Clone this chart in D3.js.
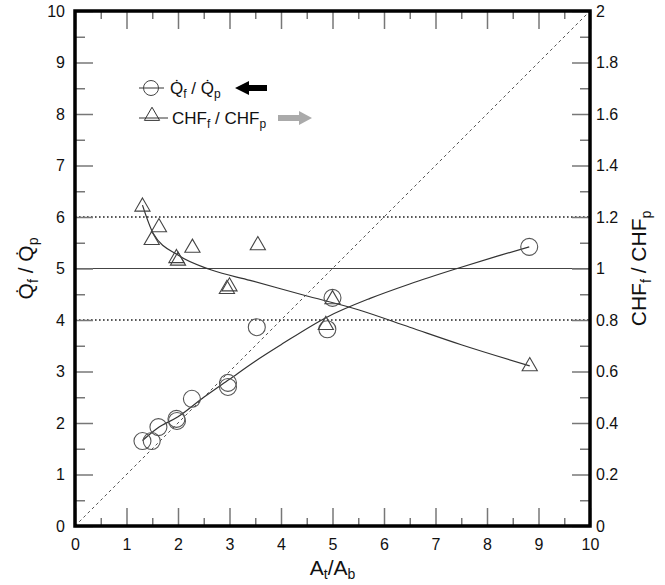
<!DOCTYPE html>
<html>
<head>
<meta charset="utf-8">
<script src="https://cdn.jsdelivr.net/npm/d3@7"></script>
<style>
body { margin: 0; background: #fff; }
text { font-family: "Liberation Sans", Arial, sans-serif; fill: #111; }
</style>
</head>
<body>
<svg id="chart" width="665" height="585"></svg>
<script>
// measured points, Q ratio (left axis)
const circleX = [1.31, 1.49, 1.62, 1.97, 1.98, 2.27, 2.97, 2.97, 3.53, 4.9, 5.0, 8.82];
const circleQ = [1.65, 1.65, 1.92, 2.08, 2.04, 2.47, 2.78, 2.70, 3.86, 3.82, 4.43, 5.42];
// measured points, CHF ratio (right axis)
const triX = [1.31, 1.63, 1.49, 2.28, 1.97, 2.0, 3.55, 3.0, 2.95, 5.0, 4.87, 8.83];
const triCHF = [1.24, 1.16, 1.11, 1.08, 1.04, 1.03, 1.09, 0.93, 0.92, 0.88, 0.78, 0.62];
// fitted curves
const fitQX = [1.31, 1.6, 2.0, 2.5, 3.0, 3.5, 4.0, 4.9, 5.73, 6.5, 7.42, 8.2, 8.82];
const fitQY = [1.66, 1.9, 2.12, 2.5, 2.85, 3.2, 3.52, 4.06, 4.42, 4.7, 5.0, 5.24, 5.42];
const fitCX = [1.31, 1.52, 2.0, 2.65, 3.4, 4.45, 5.5, 6.5, 7.5, 8.83];
const fitCY = [1.246, 1.136, 1.052, 0.994, 0.954, 0.896, 0.84, 0.772, 0.704, 0.622];
// reference lines on the left scale
const dottedLevels = [4, 6];
const solidLevels = [5];

const svg = d3.select('#chart');
const x = d3.scaleLinear().domain([0, 10]).range([75, 590]);
const yL = d3.scaleLinear().domain([0, 10]).range([526, 11]);
const yR = d3.scaleLinear().domain([0, 2]).range([526, 11]);

// reference lines
svg.selectAll('.dotted').data(dottedLevels).enter().append('line')
	.attr('x1', x(0)).attr('x2', x(10))
	.attr('y1', d => yL(d)).attr('y2', d => yL(d))
	.attr('stroke', '#222').attr('stroke-width', 1.6).attr('stroke-dasharray', '1.6,2.4');
svg.selectAll('.solid').data(solidLevels).enter().append('line')
	.attr('x1', x(0)).attr('x2', x(10))
	.attr('y1', d => yL(d)).attr('y2', d => yL(d))
	.attr('stroke', '#444').attr('stroke-width', 1.2);
svg.append('line')
	.attr('x1', x(0)).attr('y1', yL(0)).attr('x2', x(10)).attr('y2', yL(10))
	.attr('stroke', '#555').attr('stroke-width', 1).attr('stroke-dasharray', '3,3');

// fit curves
let lineQ = d3.line().x(d => x(d[0])).y(d => yL(d[1])).curve(d3.curveMonotoneX);
let lineC = d3.line().x(d => x(d[0])).y(d => yR(d[1])).curve(d3.curveMonotoneX);
svg.append('path').attr('d', lineQ(fitQX.map((v, i) => [v, fitQY[i]])))
	.attr('fill', 'none').attr('stroke', '#333').attr('stroke-width', 1.2);
svg.append('path').attr('d', lineC(fitCX.map((v, i) => [v, fitCY[i]])))
	.attr('fill', 'none').attr('stroke', '#333').attr('stroke-width', 1.2);

// markers
svg.selectAll('.circ').data(circleX).enter().append('circle')
	.attr('cx', d => x(d))
	.attr('cy', (d, i) => yL(circleQ[i]))
	.attr('r', 8.5)
	.attr('fill', 'none').attr('stroke', '#555').attr('stroke-width', 1.1);
let tri = d3.symbol().type(d3.symbolTriangle).size(100);
svg.selectAll('.tri').data(triX).enter().append('path')
	.attr('d', tri)
	.attr('transform', (d, i) => 'translate(' + x(d) + ',' + yR(triCHF[i]) + ')')
	.attr('fill', 'none').attr('stroke', '#444').attr('stroke-width', 1.1);

// axes with inward ticks
function styleAxis(g) {
	g.select('.domain').remove();
	g.selectAll('.tick line').attr('stroke', '#777').attr('stroke-width', 1.5);
	g.selectAll('.tick text').style('font-size', '16px').style('font-family', '"Liberation Sans", Arial, sans-serif');
}
const major = d3.range(0, 11, 1);
const minor = d3.range(0.5, 10, 1);
const majorR = d3.range(0, 2.01, 0.2);
const minorR = d3.range(0.1, 2, 0.2);

svg.append('g').attr('transform', 'translate(' + x(0) + ',0)')
	.call(d3.axisLeft(yL).tickValues(minor).tickSize(-10).tickFormat('')).call(styleAxis);
svg.append('g').attr('transform', 'translate(' + x(0) + ',0)')
	.call(d3.axisLeft(yL).tickValues(major).tickSize(-18).tickPadding(10).tickFormat(d3.format('d'))).call(styleAxis);

svg.append('g').attr('transform', 'translate(' + x(10) + ',0)')
	.call(d3.axisRight(yR).tickValues(minorR).tickSize(-10).tickFormat('')).call(styleAxis);
svg.append('g').attr('transform', 'translate(' + x(10) + ',0)')
	.call(d3.axisRight(yR).tickValues(majorR).tickSize(-18).tickPadding(6).tickFormat(d => d3.format('.1~f')(d))).call(styleAxis);

svg.append('g').attr('transform', 'translate(0,' + yL(0) + ')')
	.call(d3.axisBottom(x).tickValues(minor).tickSize(-8).tickFormat('')).call(styleAxis);
svg.append('g').attr('transform', 'translate(0,' + yL(0) + ')')
	.call(d3.axisBottom(x).tickValues(major).tickSize(-18).tickPadding(13).tickFormat(d3.format('d'))).call(styleAxis);

svg.append('g').attr('transform', 'translate(0,' + yL(10) + ')')
	.call(d3.axisTop(x).tickValues(minor).tickSize(-8).tickFormat('')).call(styleAxis);
svg.append('g').attr('transform', 'translate(0,' + yL(10) + ')')
	.call(d3.axisTop(x).tickValues(major).tickSize(-18).tickFormat('')).call(styleAxis);

// frame
svg.append('rect')
	.attr('x', x(0)).attr('y', yL(10))
	.attr('width', x(10) - x(0)).attr('height', yL(0) - yL(10))
	.attr('fill', 'none').attr('stroke', '#000').attr('stroke-width', 3.5);

// axis titles
let xt = svg.append('text').attr('x', x(5)).attr('y', 575).attr('text-anchor', 'middle').style('font-size', '21px');
xt.append('tspan').text('A');
xt.append('tspan').attr('dy', 4).style('font-size', '14px').text('t');
xt.append('tspan').attr('dy', -4).text('/A');
xt.append('tspan').attr('dy', 4).style('font-size', '14px').text('b');

let yt = svg.append('text').attr('transform', 'translate(33,' + yL(5) + ') rotate(-90)')
	.attr('text-anchor', 'middle').style('font-size', '21px');
yt.append('tspan').text('Q\u0307');
yt.append('tspan').attr('dy', 5).style('font-size', '14px').text('f');
yt.append('tspan').attr('dy', -5).text(' / Q\u0307');
yt.append('tspan').attr('dy', 5).style('font-size', '14px').text('p');

let rt = svg.append('text').attr('transform', 'translate(646,' + yL(5) + ') rotate(-90)')
	.attr('text-anchor', 'middle').style('font-size', '21px');
rt.append('tspan').text('CHF');
rt.append('tspan').attr('dy', 5).style('font-size', '14px').text('f');
rt.append('tspan').attr('dy', -5).text(' / CHF');
rt.append('tspan').attr('dy', 5).style('font-size', '14px').text('p');

// legend
const legendY = [88, 118];
svg.append('line').attr('x1', 139).attr('x2', 164).attr('y1', legendY[0]).attr('y2', legendY[0]).attr('stroke', '#333');
svg.append('circle').attr('cx', 151).attr('cy', legendY[0]).attr('r', 7.5).attr('fill', 'none').attr('stroke', '#444');
svg.append('line').attr('x1', 139).attr('x2', 168).attr('y1', legendY[1]).attr('y2', legendY[1]).attr('stroke', '#333');
svg.append('path').attr('d', tri).attr('transform', 'translate(152,' + (legendY[1] - 2) + ')')
	.attr('fill', 'none').attr('stroke', '#333');

let l1 = svg.append('text').attr('x', 170).attr('y', legendY[0] + 6).style('font-size', '17px');
l1.append('tspan').text('Q\u0307');
l1.append('tspan').attr('dy', 4).style('font-size', '12px').text('f');
l1.append('tspan').attr('dy', -4).text(' / Q\u0307');
l1.append('tspan').attr('dy', 4).style('font-size', '12px').text('p');
let l2 = svg.append('text').attr('x', 172).attr('y', legendY[1] + 6).style('font-size', '17px');
l2.append('tspan').text('CHF');
l2.append('tspan').attr('dy', 4).style('font-size', '12px').text('f');
l2.append('tspan').attr('dy', -4).text(' / CHF');
l2.append('tspan').attr('dy', 4).style('font-size', '12px').text('p');

// arrows
svg.append('path')
	.attr('d', 'M235,' + legendY[0] + ' l14,-7 v4 h18 v6 h-18 v4 z')
	.attr('fill', '#000');
svg.append('path')
	.attr('d', 'M312,' + legendY[1] + ' l-13,-7 v4 h-21 v6 h21 v4 z')
	.attr('fill', '#aaa');
</script>
</body>
</html>
